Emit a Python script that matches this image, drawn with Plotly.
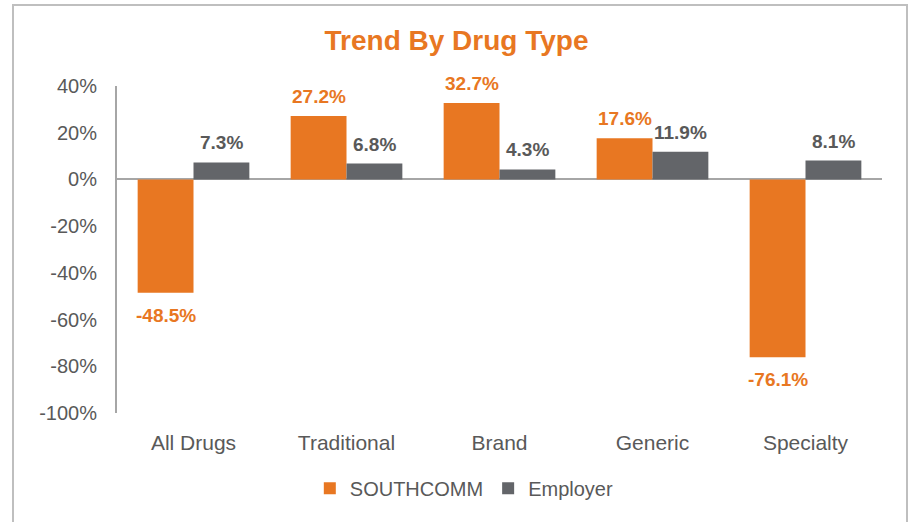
import plotly.graph_objects as go

categories = ["All Drugs", "Traditional", "Brand", "Generic", "Specialty"]
southcomm = [-48.5, 27.2, 32.7, 17.6, -76.1]
employer = [7.3, 6.8, 4.3, 11.9, 8.1]
tick_vals = [-100, -80, -60, -40, -20, 0, 20, 40]
tick_text = ["-100%", "-80%", "-60%", "-40%", "-20%", "0%", "20%", "40%"]

ORANGE = "#E87722"
GRAY = "#636569"
TXT = "#595959"
FONT = "Liberation Sans, Arial"

fig = go.Figure()
fig.add_trace(go.Bar(
    x=categories, y=southcomm, name="SOUTHCOMM",
    marker=dict(color=ORANGE, line=dict(width=0)),
))
fig.add_trace(go.Bar(
    x=categories, y=employer, name="Employer",
    marker=dict(color=GRAY, line=dict(width=0)),
))

# data labels placed at each bar's value, shifted to the bar's slot in the group
half_slot = 28
for series, color, sign in ((southcomm, ORANGE, -1), (employer, TXT, 1)):
    for cat, v in zip(categories, series):
        pos = v >= 0
        fig.add_annotation(
            x=cat, y=v, xref="x", yref="y", text=f"<b>{v:.1f}%</b>", showarrow=False,
            xshift=sign * half_slot, yshift=(7 if pos else -10),
            yanchor=("bottom" if pos else "top"), xanchor="center",
            font=dict(family=FONT, size=19, color=color),
        )

fig.update_layout(
    width=913, height=522,
    margin=dict(l=117, r=31, t=86, b=109),
    paper_bgcolor="white", plot_bgcolor="white",
    barmode="group", bargap=0.27, bargroupgap=0,
    font=dict(family=FONT, color=TXT),
    title=dict(text="<b>Trend By Drug Type</b>", x=0.5, xanchor="center", y=0.923, yanchor="middle",
               font=dict(family="Liberation Sans Narrow, Arial Narrow, Liberation Sans", size=28, color=ORANGE)),
    showlegend=True,
    legend=dict(orientation="h", x=0.454, xanchor="center", y=-0.23, yanchor="middle",
                font=dict(size=20, color=TXT), traceorder="normal"),
)
fig.update_yaxes(
    range=[-100, 40], tickvals=tick_vals, ticktext=tick_text,
    showgrid=False, showline=True, linecolor="#A6A6A6", linewidth=2,
    zeroline=True, zerolinecolor="#A6A6A6", zerolinewidth=2,
    tickfont=dict(size=20, color=TXT), ticks="", ticklabelstandoff=14,
)
fig.update_xaxes(
    showgrid=False, showline=False, ticks="",
    tickfont=dict(size=21, color=TXT), ticklabelstandoff=15,
)
fig.add_shape(type="rect", xref="paper", yref="paper",
              x0=(13 - 117) / 765, x1=(907 - 117) / 765,
              y0=-0.5, y1=(413 - 5) / 327,
              line=dict(color="#BFBFBF", width=2), layer="below")

fig.write_html("out.html")
